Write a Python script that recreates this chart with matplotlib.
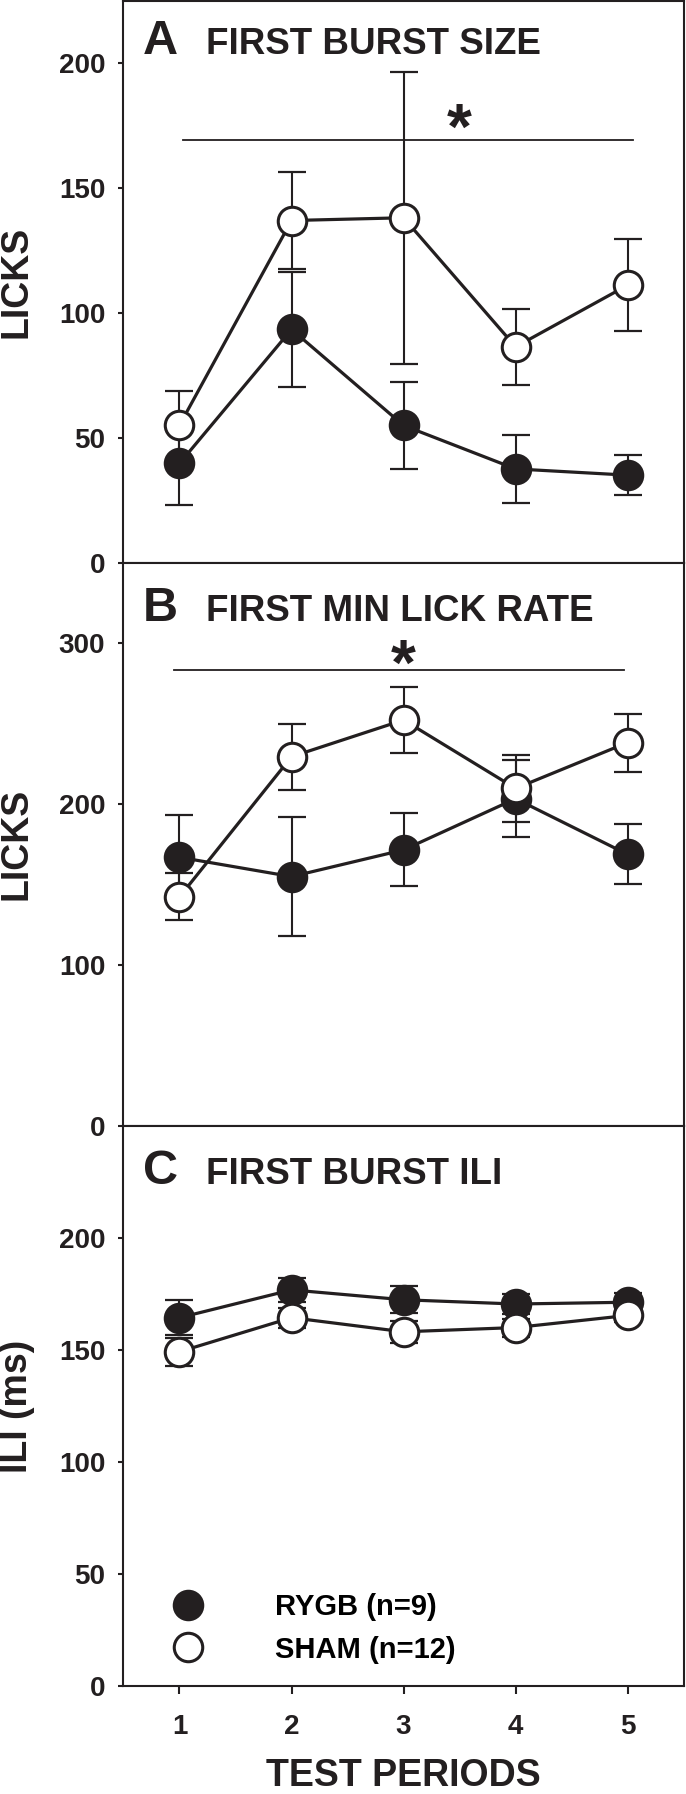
import numpy as np
import matplotlib
matplotlib.use('Agg')
import matplotlib.pyplot as plt
from matplotlib.lines import Line2D

plt.rcParams['font.family'] = ['Liberation Sans', 'DejaVu Sans']
plt.rcParams['font.weight'] = 'bold'

ink = '#231f20'

periods = [1, 2, 3, 4, 5]

# A: first burst size (licks)
a_rygb     = [39.8, 93.5, 55.0, 37.6, 35.1]
a_rygb_sem = [16.7, 23.0, 17.5, 13.7, 8.1]
a_sham     = [55.1, 137.1, 138.2, 86.5, 111.2]
a_sham_sem = [13.7, 19.3, 58.5, 15.3, 18.4]

# B: first min lick rate (licks)
b_rygb     = [166.9, 154.9, 171.5, 203.3, 168.7]
b_rygb_sem = [26.0, 37.0, 22.7, 23.8, 18.7]
b_sham     = [142.3, 229.4, 252.2, 209.7, 238.2]
b_sham_sem = [14.6, 20.5, 20.6, 20.6, 18.0]

# C: first burst ILI (ms)
c_rygb     = [164.4, 176.8, 172.4, 170.5, 171.3]
c_rygb_sem = [7.8, 5.5, 6.1, 4.4, 4.3]
c_sham     = [149.2, 164.4, 158.1, 160.0, 165.4]
c_sham_sem = [6.2, 4.5, 5.0, 4.0, 3.0]

# significance bars: (y, x0, x1, star_x, star_y)
a_sig = (169.2, 1.03, 5.05, 3.5, 166.0)
b_sig = (283.0, 0.95, 4.97, 3.0, 274.0)

fig = plt.figure(figsize=(6.86, 17.94), dpi=100)
left, width = 0.180, 0.8166
axA = fig.add_axes([left, 0.6863, width, 0.3131])
axB = fig.add_axes([left, 0.3724, width, 0.3140])
axC = fig.add_axes([left, 0.0602, width, 0.3122])

msz = 20.5

def draw(ax, rygb, rygb_sem, sham, sham_sem):
    for m, s, fc, z in [(rygb, rygb_sem, ink, 3), (sham, sham_sem, 'white', 4)]:
        ax.errorbar(periods, m, yerr=s, fmt='none', ecolor=ink, elinewidth=1.5,
                    capsize=10, capthick=1.6, zorder=1)
        ax.plot(periods, m, '-', color=ink, lw=2.3, zorder=2)
        ax.plot(periods, m, 'o', ms=msz, mfc=fc, mec=ink, mew=2.2, zorder=z, ls='none')

def style(ax, ylim, yticks, letter, title, ly):
    ax.set_xlim(0.5, 5.5)
    ax.set_ylim(*ylim)
    ax.set_yticks(yticks)
    for sp in ax.spines.values():
        sp.set_linewidth(1.5)
        sp.set_color(ink)
    ax.tick_params(axis='y', length=3.6, width=1.5, pad=9.5, labelsize=20, colors=ink)
    ax.text(0.035, ly, letter, transform=ax.transAxes, fontsize=35, fontweight='bold', color=ink)
    ax.text(0.147, ly, title, transform=ax.transAxes, fontsize=26.5, fontweight='bold', color=ink)
    ax.yaxis.set_label_coords(-0.158, 0.5)

def sig(ax, s):
    y, x0, x1, xs, ys = s
    ax.plot([x0, x1], [y, y], color=ink, lw=1.3, zorder=1)
    ax.text(xs, ys, '*', ha='center', va='baseline', fontsize=46, fontweight='bold', color=ink)

draw(axA, a_rygb, a_rygb_sem, a_sham, a_sham_sem)
style(axA, (0, 225), [0, 50, 100, 150, 200], 'A', 'FIRST BURST SIZE', 0.905)
sig(axA, a_sig)
axA.set_ylabel('LICKS', fontsize=27, fontweight='bold', color=ink)
axA.set_xticks([])

draw(axB, b_rygb, b_rygb_sem, b_sham, b_sham_sem)
style(axB, (0, 350), [0, 100, 200, 300], 'B', 'FIRST MIN LICK RATE', 0.897)
sig(axB, b_sig)
axB.set_ylabel('LICKS', fontsize=27, fontweight='bold', color=ink)
axB.set_xticks([])

draw(axC, c_rygb, c_rygb_sem, c_sham, c_sham_sem)
style(axC, (0, 250), [0, 50, 100, 150, 200], 'C', 'FIRST BURST ILI', 0.897)
axC.set_ylabel('ILI (ms)', fontsize=27, fontweight='bold', color=ink)
axC.set_xticks(periods)
axC.tick_params(axis='x', length=6, width=1.5, pad=14, labelsize=20, colors=ink)
axC.set_xlabel('TEST PERIODS', fontsize=27, fontweight='bold', color=ink)
axC.xaxis.set_label_coords(0.5, -0.128)

handles = [
    Line2D([], [], ls='none', marker='o', ms=msz, mfc=ink, mec=ink, mew=2.2),
    Line2D([], [], ls='none', marker='o', ms=msz, mfc='white', mec=ink, mew=2.2),
]
axC.legend(handles, ['RYGB (n=9)', 'SHAM (n=12)'], loc='lower left',
           bbox_to_anchor=(0.063, 0.04), frameon=False, fontsize=21,
           handlelength=2.0, handletextpad=2.0, labelspacing=0.5,
           borderpad=0, borderaxespad=0, numpoints=1)

fig.savefig('out.png', dpi=100)
